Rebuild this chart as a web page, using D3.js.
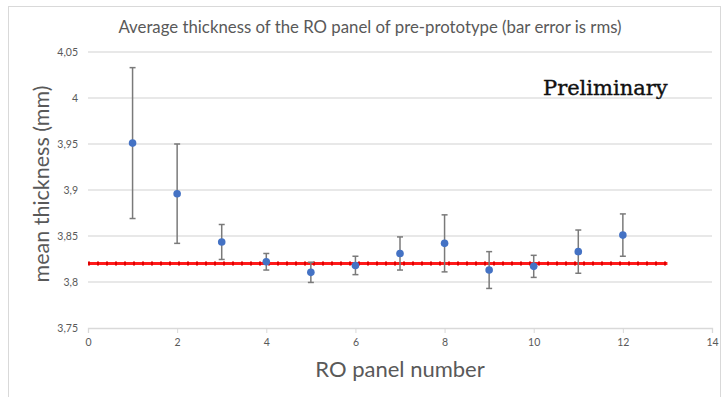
<!DOCTYPE html>
<html>
<head>
<meta charset="utf-8">
<script src="https://cdn.jsdelivr.net/npm/d3@7"></script>
<style>
  html, body { margin: 0; padding: 0; background: #fff; }
  svg { display: block; }
</style>
</head>
<body>
<svg id="chart" width="722" height="397"></svg>
<script>
// Panel numbers, mean thickness (mm) and rms used as error bar half-width
const panels = [1, 2, 3, 4, 5, 6, 7, 8, 9, 10, 11, 12];
const meanThickness = [3.951, 3.896, 3.8435, 3.822, 3.8105, 3.818, 3.831, 3.842, 3.813, 3.817, 3.833, 3.851];
const rms = [0.082, 0.054, 0.019, 0.009, 0.011, 0.010, 0.018, 0.031, 0.020, 0.012, 0.0235, 0.023];

// Nominal thickness reference line
const nominalValue = 3.82;
const nominalRange = [0, 13];

const xTicks = [0, 2, 4, 6, 8, 10, 12, 14];
const yTicks = [3.75, 3.8, 3.85, 3.9, 3.95, 4, 4.05];

const svg = d3.select("#chart");
const W = 722, H = 397;

// chart frame
svg.append("rect")
  .attr("x", 8.5).attr("y", 6.5)
  .attr("width", W - 10).attr("height", H - 4)
  .attr("fill", "#fff").attr("stroke", "#d9d9d9").attr("stroke-width", 1);

const x = d3.scaleLinear().domain([0, 14]).range([88, 712]);
const y = d3.scaleLinear().domain([3.75, 4.05]).range([328, 52]);

const fmt = d => String(d).replace(".", ",");
const textColor = "#595959";
const font = "Lato, 'Open Sans', sans-serif";

// horizontal gridlines
svg.append("g")
  .selectAll("line")
  .data(yTicks.slice(1))
  .join("line")
  .attr("x1", x(0)).attr("x2", x(14))
  .attr("y1", d => y(d)).attr("y2", d => y(d))
  .attr("stroke", "#e0e0e0").attr("stroke-width", 1.3);

// y axis labels
const yAxis = d3.axisLeft(y).tickValues(yTicks).tickFormat(fmt).tickSize(0).tickPadding(10);
svg.append("g")
  .attr("transform", `translate(${x(0)},0)`)
  .call(yAxis)
  .call(g => g.select(".domain").remove())
  .call(g => g.selectAll("text").attr("fill", textColor).style("font-family", font).style("font-size", "10.5px"));

// x axis
const xAxis = d3.axisBottom(x).tickValues(xTicks).tickFormat(fmt).tickSize(5).tickPadding(6);
svg.append("g")
  .attr("transform", `translate(0,${y(3.75)})`)
  .call(xAxis)
  .call(g => g.select(".domain").attr("stroke", "#d9d9d9").attr("stroke-width", 1.3))
  .call(g => g.selectAll(".tick line").attr("stroke", "#d9d9d9"))
  .call(g => g.selectAll("text").attr("fill", textColor).style("font-family", font).style("font-size", "10.5px"));

// nominal red line
svg.append("line")
  .attr("x1", x(nominalRange[0])).attr("x2", x(nominalRange[1]))
  .attr("y1", y(nominalValue)).attr("y2", y(nominalValue))
  .attr("stroke", "#ff1a1a").attr("stroke-width", 3);
svg.append("line")
  .attr("x1", x(nominalRange[0])).attr("x2", x(nominalRange[1]))
  .attr("y1", y(nominalValue)).attr("y2", y(nominalValue))
  .attr("stroke", "#e00000").attr("stroke-width", 4)
  .attr("stroke-dasharray", "2,7");

const data = panels.map((p, i) => ({ p, m: meanThickness[i], e: rms[i] }));

// error bars
const eb = svg.append("g").attr("stroke", "#7a7a7a").attr("stroke-width", 1.5);
eb.selectAll("line.v").data(data).join("line").attr("class", "v")
  .attr("x1", d => x(d.p)).attr("x2", d => x(d.p))
  .attr("y1", d => y(d.m - d.e)).attr("y2", d => y(d.m + d.e));
eb.selectAll("line.t").data(data).join("line").attr("class", "t")
  .attr("x1", d => x(d.p) - 3).attr("x2", d => x(d.p) + 3)
  .attr("y1", d => y(d.m + d.e)).attr("y2", d => y(d.m + d.e));
eb.selectAll("line.b").data(data).join("line").attr("class", "b")
  .attr("x1", d => x(d.p) - 3).attr("x2", d => x(d.p) + 3)
  .attr("y1", d => y(d.m - d.e)).attr("y2", d => y(d.m - d.e));

// mean points
svg.append("g").selectAll("circle").data(data).join("circle")
  .attr("cx", d => x(d.p)).attr("cy", d => y(d.m))
  .attr("r", 3.8).attr("fill", "#4472c4");

// titles
svg.append("text")
  .attr("x", 370).attr("y", 33)
  .attr("text-anchor", "middle")
  .attr("fill", textColor)
  .style("font-family", font).style("font-size", "16.8px")
  .text("Average thickness of the RO panel of pre-prototype (bar error is rms)");

svg.append("text")
  .attr("transform", "translate(49,184) rotate(-90)")
  .attr("text-anchor", "middle")
  .attr("fill", textColor)
  .style("font-family", font).style("font-size", "21.5px")
  .text("mean thickness (mm)");

svg.append("text")
  .attr("x", 400).attr("y", 377)
  .attr("text-anchor", "middle")
  .attr("fill", textColor)
  .style("font-family", font).style("font-size", "22px")
  .text("RO panel number");

svg.append("text")
  .attr("x", 543).attr("y", 95)
  .attr("fill", "#111")
  .attr("stroke", "#111").attr("stroke-width", 0.4)
  .style("font-family", "'DejaVu Serif', serif").style("font-size", "21px")
  .text("Preliminary");
</script>
</body>
</html>
